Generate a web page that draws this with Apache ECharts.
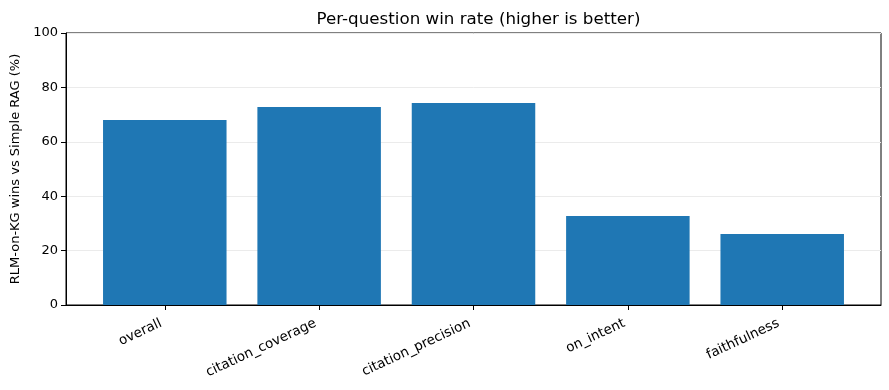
<!DOCTYPE html>
<html><head><meta charset="utf-8">
<script src="https://cdn.jsdelivr.net/npm/echarts@6/dist/echarts.min.js"></script>
<style>html,body{margin:0;padding:0;background:#fff}#c{width:889px;height:390px}</style>
</head><body><div id="c"></div>
<script>
const categories = ['overall', 'citation_coverage', 'citation_precision', 'on_intent', 'faithfulness'];
const winRates = [68.0, 72.8, 74.3, 32.7, 26.1];
const yTicks = [0, 20, 40, 60, 80, 100];

const positions = categories.map((_, i) => i);
const font = 'DejaVu Sans';
const chart = echarts.init(document.getElementById('c'), null, {renderer: 'canvas'});
chart.setOption({
  animation: false,
  textStyle: {fontFamily: font},
  title: {
    text: 'Per-question win rate (higher is better)',
    left: 473.5, top: 6, textAlign: 'center',
    textStyle: {fontFamily: font, fontSize: 16.7, fontWeight: 'normal', color: '#000'}
  },
  grid: {left: 66, right: 8, top: 33, bottom: 85, show: true, borderColor: '#000', borderWidth: 1, backgroundColor: 'transparent'},
  xAxis: {
    type: 'value', min: -0.64, max: positions.length - 1 + 0.64,
    axisLine: {show: true, onZero: false, lineStyle: {color: '#000'}},
    splitLine: {show: false},
    axisTick: {show: true, customValues: positions, length: 5, lineStyle: {color: '#000'}},
    axisLabel: {
      customValues: positions, rotate: 25, margin: 16, padding: [0, 4, 0, 0],
      fontFamily: font, fontSize: 13.5, color: '#000',
      formatter: v => categories[Math.round(v)]
    }
  },
  yAxis: {
    type: 'value', min: yTicks[0], max: yTicks[yTicks.length - 1], interval: 20,
    name: 'RLM-on-KG wins vs Simple RAG (%)', nameLocation: 'middle', nameGap: 44,
    nameTextStyle: {fontFamily: font, fontSize: 13, color: '#000'},
    axisLine: {show: true, onZero: false, lineStyle: {color: '#000'}},
    axisTick: {show: true, length: 5, lineStyle: {color: '#000'}},
    axisLabel: {fontFamily: font, fontSize: 13, color: '#000', margin: 8},
    splitLine: {show: true, lineStyle: {color: '#ebebeb', width: 1}}
  },
  series: [{
    type: 'bar',
    data: positions.map((p, i) => [p, winRates[i]]),
    barWidth: 123.5,
    itemStyle: {color: '#1f77b4'}
  }]
});
</script></body></html>
